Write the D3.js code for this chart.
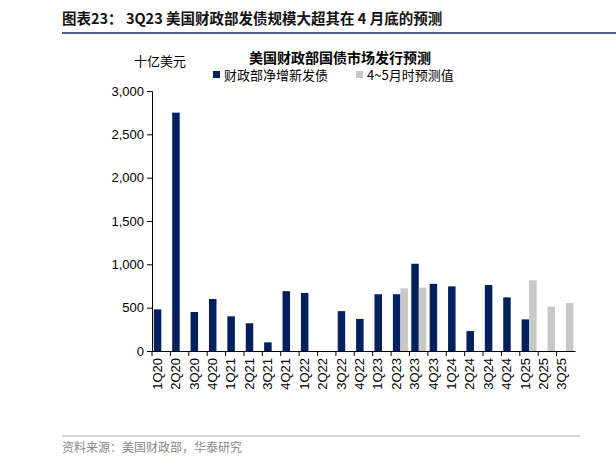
<!DOCTYPE html><html><head><meta charset="utf-8"><script src="https://cdn.jsdelivr.net/npm/d3@7"></script>
<style>body{margin:0;background:#fff}svg{font-family:"Noto Sans CJK SC",sans-serif}</style></head><body><svg id="c" width="616" height="466"></svg>
<script>
const categories=["1Q20","2Q20","3Q20","4Q20","1Q21","2Q21","3Q21","4Q21","1Q22","2Q22","3Q22","4Q22","1Q23","2Q23","3Q23","4Q23","1Q24","2Q24","3Q24","4Q24","1Q25","2Q25","3Q25"];
const actual=[480,2750,450,600,400,320,100,690,670,null,460,370,655,655,1007,775,746,230,761,619,365,null,null];
const forecast=[null,null,null,null,null,null,null,null,null,null,null,null,null,723,730,null,null,null,null,null,815,511,553];
const yTicks=[0,500,1000,1500,2000,2500,3000];
const svg=d3.select("#c");
svg.append("text").attr("x",62).attr("y",24).attr("font-size",14.5).attr("font-weight","bold").attr("fill","#111").text("图表23：  3Q23 美国财政部发债规模大超其在 4 月底的预测");
svg.append("line").attr("x1",62).attr("x2",616).attr("y1",33).attr("y2",33).attr("stroke","#1a2a5a").attr("stroke-width",1.5);
const x=d3.scaleBand().domain(categories).range([152,575]);
const y=d3.scaleLinear().domain([0,3000]).range([351,91]);
svg.append("g").attr("transform","translate(152,0)").call(d3.axisLeft(y).tickValues(yTicks).tickFormat(d3.format(",")).tickSize(5)).call(g=>g.selectAll("text").attr("font-size",13).attr("font-family","Liberation Sans, Arial").attr("fill","#000"));
const xa=svg.append("g").attr("transform","translate(0,351)").call(d3.axisBottom(x).tickSize(5).tickSizeOuter(0));
xa.selectAll(".tick line").attr("transform",`translate(${-x.bandwidth()/2},0)`);
xa.selectAll("text").attr("font-size",13).attr("font-family","Liberation Sans, Arial").attr("fill","#000").attr("transform","rotate(-90)").attr("text-anchor","end").attr("x",-7).attr("y",-4).attr("dy","0.35em");
const bw=7.5;
svg.append("g").selectAll("rect").data(categories.map((c,i)=>[c,actual[i]]).filter(d=>d[1]!=null)).join("rect")
 .attr("x",d=>x(d[0])+1.8).attr("width",bw).attr("y",d=>y(d[1])).attr("height",d=>y(0)-y(d[1])).attr("fill","#002060");
svg.append("g").selectAll("rect").data(categories.map((c,i)=>[c,forecast[i]]).filter(d=>d[1]!=null)).join("rect")
 .attr("x",d=>x(d[0])+1.8+bw).attr("width",bw).attr("y",d=>y(d[1])).attr("height",d=>y(0)-y(d[1])).attr("fill","#c8c8c8");
svg.append("text").attr("x",134).attr("y",66).attr("font-size",13).text("十亿美元");
svg.append("text").attr("x",340).attr("y",63).attr("font-size",14).attr("font-weight","bold").attr("text-anchor","middle").text("美国财政部国债市场发行预测");
svg.append("rect").attr("x",213).attr("y",71).attr("width",7).attr("height",7).attr("fill","#002060");
svg.append("text").attr("x",224).attr("y",80).attr("font-size",13).text("财政部净增新发债");
svg.append("rect").attr("x",356).attr("y",71).attr("width",7).attr("height",7).attr("fill","#c8c8c8");
svg.append("text").attr("x",367).attr("y",80).attr("font-size",13).text("4~5月时预测值");
svg.append("line").attr("x1",62).attr("x2",580).attr("y1",436).attr("y2",436).attr("stroke","#aaa");
svg.append("text").attr("x",62).attr("y",452).attr("font-size",12).attr("fill","#888").text("资料来源：美国财政部，华泰研究");
</script></body></html>
